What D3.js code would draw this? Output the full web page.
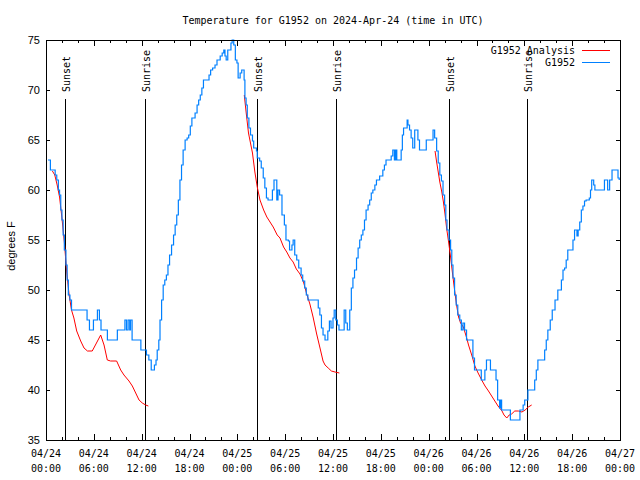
<!DOCTYPE html>
<html><head><meta charset="utf-8">
<script src="https://cdn.jsdelivr.net/npm/d3@7"></script>
<style>body{margin:0;background:#fff}</style>
</head><body><svg id="c" width="640" height="480"></svg>
<script>
// ---- data (hours since 2024-04-24 00:00 UTC, degrees F) ----
const titleText = "Temperature for G1952 on 2024-Apr-24 (time in UTC)";
const yLabelText = "degrees F";
const seriesNames = ["G1952 Analysis", "G1952"];
const yTicks = [35, 40, 45, 50, 55, 60, 65, 70, 75];

const obsHours = [0.25,0.55,1.15,1.35,1.55,1.7,1.85,2.0,2.15,2.3,2.5,2.65,2.8,3.0,3.2,5.15,5.45,5.95,6.45,6.7,6.9,7.7,8.95,9.9,10.1,10.3,10.5,10.6,10.8,11.9,12.6,12.9,13.2,13.6,13.8,13.95,14.15,14.3,14.5,14.7,14.9,15.1,15.3,15.5,15.75,16.0,16.2,16.4,16.6,16.8,17.0,17.2,17.45,17.7,17.9,18.1,18.3,18.7,18.95,19.15,19.35,19.55,19.75,20.45,20.65,20.9,21.2,21.45,21.85,22.1,22.3,22.45,22.6,22.8,23.2,23.35,23.55,23.75,23.95,24.1,24.35,24.55,24.7,24.85,24.95,25.1,25.25,25.45,25.65,25.9,26.05,26.4,26.5,26.8,27.0,27.25,27.45,27.65,27.85,28.4,28.6,28.95,29.1,29.3,29.6,29.9,30.1,30.4,30.55,30.85,31.0,31.2,31.45,31.7,32.0,32.2,32.45,32.65,32.85,34.15,34.35,34.55,34.75,35.0,35.35,35.55,35.75,36.0,36.15,36.35,36.55,36.75,37.4,37.6,37.8,38.1,38.3,38.5,38.7,38.95,39.15,39.35,39.55,39.75,39.95,40.15,40.4,40.6,40.8,41.0,41.25,41.45,41.85,42.25,42.45,42.65,43.3,43.5,43.7,43.85,44.0,44.55,44.7,44.85,45.3,45.4,45.6,45.8,46.0,46.25,46.65,46.85,47.7,48.55,48.75,49.0,49.2,49.4,49.6,49.8,50.0,50.15,50.3,50.55,50.75,50.9,51.05,51.25,51.45,51.65,51.9,52.1,52.3,52.5,52.75,53.55,53.75,54.6,55.05,55.25,55.75,56.45,56.65,56.9,57.05,57.15,58.25,59.45,59.85,60.05,60.45,61.3,61.5,61.7,62.55,62.75,62.95,63.25,63.5,63.85,64.2,64.65,64.85,65.05,65.25,65.45,66.1,66.3,66.6,66.75,66.95,67.15,67.35,67.55,67.75,68.15,68.3,68.45,68.7,68.85,70.05,70.45,70.7,71.0,71.75,71.9];
const obsTemps = [63,62,61.5,61,60,59.5,58,57,55.5,54,52.5,51,49.5,49,48,47,46,47,48,47,46,45,46,47,46,47,46,47,45,44,43.5,43,42,42.5,43,44,45,47,49,50.5,51,51.5,52.5,53.5,54.5,55.5,56.5,57.5,59,61,62.5,64,65,65.2,65.5,66.4,67.2,67.7,68.5,69,69.5,70.2,71,71.5,72,72.2,72.5,73,73.4,73.7,74,73.4,73,74,74.7,75,74.5,73,72.7,71.2,71.7,72,72,71,69.2,68.5,67.2,66.2,65.5,64.9,64.2,63.9,63.2,62.9,62.2,61.2,60.2,59.2,59,60,61,59,60,59.5,57.5,56.5,55,54.9,54,54.5,55,53.5,53,52.2,51.5,50.9,50.2,49.5,49,48.2,47.5,46.2,45.5,45,45.9,46.9,46.2,47.2,48,47,46.5,46,48,46.7,46,48,50.2,51.2,52,53.2,54.2,55,55.5,56,57,58,58.5,59,59.7,60,60.5,61,61.4,62,62.5,63,63.4,64,63,64,63,64,65.5,66.2,67,66.5,66,65.2,64.2,66,65,64,65,66,65.2,63.9,62.7,61.5,60.9,59.5,58.5,57,56,55,54,52.5,51.2,49.5,48.5,47.5,47,46,46.7,46,45,43.2,42,41,42,43,42,41,39,38.2,39,38,37,38,38.5,39,40,41,42,43,44,45,46,47,48,49,50,51,52,52.2,53,54,55,56,55.4,56,56.8,58,58.4,58.9,59,59.2,60,61,60.5,60,61,60,61,62,61.2,61];

const analysisNight1 = [[0.8,61.9],[1.1,61.5],[1.4,60.5],[1.7,59.3],[2.0,57.2],[2.3,54.8],[2.6,51.8],[2.9,49.5],[3.2,48.0],[3.5,47.2],[3.85,45.9],[4.35,44.9],[4.77,44.2],[5.2,43.9],[5.8,43.9],[6.86,45.5],[7.28,44.5],[7.69,43.0],[8.1,42.9],[8.86,42.9],[9.37,42.0],[9.78,41.5],[10.41,40.9],[10.83,40.4],[11.25,39.7],[11.67,39.0],[12.08,38.7],[12.5,38.5],[12.84,38.4]];
const analysisNight2 = [[24.87,69.5],[25.1,67.8],[25.4,65.7],[25.9,63.7],[26.2,61.8],[26.5,60.3],[26.84,59],[27.3,58],[27.7,57.3],[28.1,56.8],[28.5,56.3],[29.0,55.5],[29.35,55.2],[29.8,54.3],[30.2,53.8],[30.6,53.2],[31.0,52.8],[31.4,52.1],[31.86,51.6],[32.3,50.8],[32.7,49.6],[33.1,48.6],[33.5,47.3],[33.95,45.6],[34.4,44.1],[34.75,42.9],[35.0,42.5],[35.4,42.2],[35.8,41.9],[36.25,41.8],[36.8,41.7]];
const analysisNight3 = [[48.8,63.9],[49.0,62.8],[49.2,61.8],[49.4,60.8],[49.65,59.8],[49.85,58.8],[50.05,57.6],[50.25,56.2],[50.5,54.8],[50.75,53.3],[51.0,51.6],[51.25,50.0],[51.5,48.5],[51.75,47.3],[52.0,46.7],[52.35,46.3],[52.77,45.2],[53.0,44.5],[53.4,43.5],[53.8,42.4],[54.2,41.7],[54.65,41.0],[55.07,40.4],[55.5,39.9],[55.9,39.4],[56.3,38.9],[56.7,38.4],[57.2,37.9],[57.45,37.5],[57.8,37.2],[58.1,37.5],[58.4,37.6],[58.8,37.9],[59.25,37.9],[59.7,37.8],[60.1,38.0],[60.5,38.3],[60.92,38.5]];

const sunsetHours = [2.42, 26.5, 50.6];
const sunriseHours = [12.42, 36.42, 60.38];

// ---- layout ----
const W = 640, H = 480;
const m = {left: 46, right: 620, top: 40, bottom: 440};
const t0 = Date.UTC(2024, 3, 24, 0, 0);
const toDate = h => new Date(t0 + h * 3600000);

const svg = d3.select("#c");
const x = d3.scaleUtc().domain([toDate(0), toDate(72)]).range([m.left, m.right]);
const y = d3.scaleLinear().domain([35, 75]).range([m.bottom, m.top]);

const mono = "'DejaVu Sans Mono', monospace";
const sans = "'Liberation Sans', Arial, sans-serif";
const RED = "#ff0000", BLUE = "#0080ff";

// title
svg.append("text").attr("x", (m.left + m.right) / 2).attr("y", 24)
  .attr("text-anchor", "middle").attr("font-family", mono).attr("font-size", 10)
  .text(titleText);

// ticks
const g = svg.append("g").attr("shape-rendering", "crispEdges").attr("stroke", "#000").attr("stroke-width", 1);
const majorX = x.ticks(d3.utcHour.every(6));
const minorX = x.ticks(d3.utcHour.every(2));
minorX.forEach(d => {
  const xx = Math.round(x(d)) + 0.5;
  const len = 3;
  g.append("line").attr("x1", xx).attr("x2", xx).attr("y1", m.bottom).attr("y2", m.bottom - len);
  g.append("line").attr("x1", xx).attr("x2", xx).attr("y1", m.top).attr("y2", m.top + len);
});
majorX.forEach(d => {
  const xx = Math.round(x(d)) + 0.5;
  g.append("line").attr("x1", xx).attr("x2", xx).attr("y1", m.bottom).attr("y2", m.bottom - 6);
  g.append("line").attr("x1", xx).attr("x2", xx).attr("y1", m.top).attr("y2", m.top + 6);
});
yTicks.forEach(v => {
  const yy = Math.round(y(v)) + 0.5;
  g.append("line").attr("x1", m.left).attr("x2", m.left + 4).attr("y1", yy).attr("y2", yy);
  g.append("line").attr("x1", m.right).attr("x2", m.right - 4).attr("y1", yy).attr("y2", yy);
});

// x tick labels
const fDay = d3.utcFormat("%m/%d"), fTime = d3.utcFormat("%H:%M");
majorX.forEach(d => {
  const t = svg.append("text").attr("font-family", mono).attr("font-size", 10)
    .attr("text-anchor", "middle");
  t.append("tspan").attr("x", x(d)).attr("y", 457).text(fDay(d));
  t.append("tspan").attr("x", x(d)).attr("y", 472).text(fTime(d));
});
// y tick labels
yTicks.forEach(v => {
  svg.append("text").attr("x", 40).attr("y", y(v) + 4).attr("text-anchor", "end")
    .attr("font-family", sans).attr("font-size", 11).text(v);
});
// y label
svg.append("text").attr("transform", `translate(15,${(m.top + m.bottom) / 2 + 6}) rotate(-90)`)
  .attr("text-anchor", "middle").attr("font-family", sans).attr("font-size", 11).text(yLabelText);

// sunrise / sunset
const events = sunsetHours.map(h => ({h, name: "Sunset"})).concat(sunriseHours.map(h => ({h, name: "Sunrise"})));
events.forEach(e => {
  const xx = Math.round(x(toDate(e.h))) + 0.5;
  svg.append("line").attr("x1", xx).attr("x2", xx).attr("y1", 99).attr("y2", m.bottom)
    .attr("stroke", "#000").attr("stroke-width", 1).attr("shape-rendering", "crispEdges");
  svg.append("text").attr("transform", `translate(${xx + 4},92) rotate(-90)`)
    .attr("text-anchor", "start").attr("font-family", mono).attr("font-size", 10).text(e.name);
});

// analysis lines
const redLine = d3.line().x(d => x(toDate(d[0]))).y(d => y(d[1]));
[analysisNight1, analysisNight2, analysisNight3].forEach(seg => {
  svg.append("path").attr("d", redLine(seg)).attr("fill", "none").attr("stroke", RED).attr("stroke-width", 1);
});
// observations
const obs = obsHours.map((h, i) => [h, obsTemps[i]]);
const blueLine = d3.line().curve(d3.curveStepAfter).x(d => x(toDate(d[0]))).y(d => y(d[1]));
svg.append("path").attr("d", blueLine(obs)).attr("fill", "none").attr("stroke", BLUE).attr("stroke-width", 1.2);

// frame
svg.append("rect").attr("x", m.left + 0.5).attr("y", m.top + 0.5)
  .attr("width", m.right - m.left).attr("height", m.bottom - m.top)
  .attr("fill", "none").attr("stroke", "#000").attr("stroke-width", 1).attr("shape-rendering", "crispEdges");

// legend
const legendY = [50, 62], colors = [RED, BLUE];
seriesNames.forEach((n, i) => {
  svg.append("text").attr("x", 575).attr("y", legendY[i] + 4).attr("text-anchor", "end")
    .attr("font-family", mono).attr("font-size", 10).text(n);
  svg.append("line").attr("x1", 582).attr("x2", 610).attr("y1", legendY[i] + 0.5).attr("y2", legendY[i] + 0.5)
    .attr("stroke", colors[i]).attr("stroke-width", 1);
});
</script></body></html>
